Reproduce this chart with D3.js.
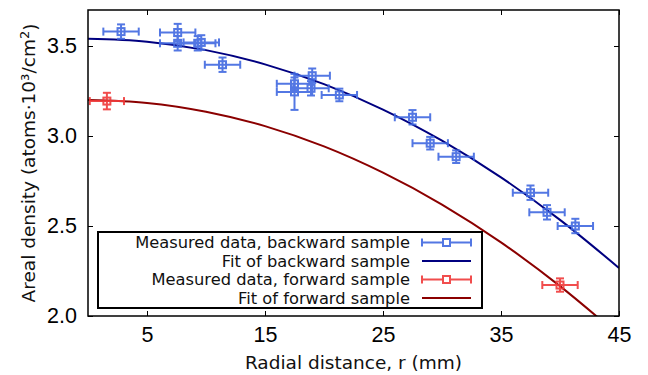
<!DOCTYPE html>
<html lang="en">
<head>
<meta charset="UTF-8">
<title>Areal density vs radial distance</title>
<script src="https://d3js.org/d3.v7.min.js"></script>
<style>
    body { margin: 0; background: #fff; }
    svg { display: block; font-family: 'DejaVu Sans', sans-serif; }
    .tick text { font-size: 21.5px; fill: #000; }
    .tick line { stroke: #000; stroke-width: 1; }
    .axis-label { font-size: 18.5px; fill: #111; }
    .legend text { font-size: 16.3px; fill: #111; }
</style>
</head>
<body>
<svg id="chart" width="648" height="375"></svg>
<script>
    // backward sample: radial distance (mm), areal density, errors
    var backR    = [2.8, 7.6, 7.6, 9.3, 9.6, 11.4, 17.5, 17.5, 18.9, 19.0, 21.3, 27.5, 29.0, 31.2, 37.5, 38.9, 41.3];
    var backD    = [3.58, 3.575, 3.515, 3.515, 3.52, 3.396, 3.29, 3.245, 3.265, 3.335, 3.228, 3.104, 2.96, 2.885, 2.685, 2.576, 2.5];
    var backRerr = [1.5, 1.5, 1.5, 1.5, 1.5, 1.5, 1.5, 1.5, 1.5, 1.5, 1.5, 1.5, 1.5, 1.5, 1.5, 1.5, 1.5];
    var backDerr = [0.04, 0.048, 0.04, 0.04, 0.04, 0.04, 0.035, 0.1, 0.04, 0.04, 0.035, 0.04, 0.035, 0.035, 0.04, 0.04, 0.04];

    // forward sample
    var fwdR    = [1.6, 40.0];
    var fwdD    = [3.194, 2.172];
    var fwdRerr = [1.45, 1.5];
    var fwdDerr = [0.046, 0.037];

    // fitted curves
    var fitR    = [0, 5, 10, 15, 20, 25, 30, 35, 40, 45];
    var backFit = [3.54, 3.524, 3.477, 3.398, 3.288, 3.147, 2.974, 2.77, 2.534, 2.267];
    var fwdFit  = [3.2, 3.184, 3.135, 3.055, 2.942, 2.796, 2.619, 2.409, 2.166, 1.892];

    var xTicks = [5, 15, 25, 35, 45];
    var yTicks = [2.0, 2.5, 3.0, 3.5];

    var blue = "#4169e1", navy = "#000080", red = "#f03a3a", darkred = "#8b0000";

    var svg = d3.select("#chart"),
        margin = {top: 10, right: 29, bottom: 59, left: 88},
        width = +svg.attr("width") - margin.left - margin.right,
        height = +svg.attr("height") - margin.top - margin.bottom;

    var x = d3.scaleLinear().domain([0, 45]).range([0, width]),
        y = d3.scaleLinear().domain([2.0, 3.7]).range([height, 0]);

    var g = svg.append("g").attr("transform", "translate(" + margin.left + "," + margin.top + ")");

    g.append("clipPath").attr("id", "clip").append("rect").attr("width", width).attr("height", height);

    // axes, ticks pointing inward on all four sides
    g.append("g").attr("transform", "translate(0," + height + ")")
        .call(d3.axisBottom(x).tickValues(xTicks).tickSizeInner(-5).tickSizeOuter(0).tickPadding(11).tickFormat(d3.format("d")))
        .call(function(a) { a.select(".domain").remove(); });
    g.append("g")
        .call(d3.axisTop(x).tickValues(xTicks).tickSizeInner(-5).tickSizeOuter(0).tickFormat(""))
        .call(function(a) { a.select(".domain").remove(); });
    g.append("g")
        .call(d3.axisLeft(y).tickValues(yTicks).tickSizeInner(-5).tickSizeOuter(0).tickPadding(11).tickFormat(d3.format(".1f")))
        .call(function(a) { a.select(".domain").remove(); });
    g.append("g").attr("transform", "translate(" + width + ",0)")
        .call(d3.axisRight(y).tickValues(yTicks).tickSizeInner(-5).tickSizeOuter(0).tickFormat(""))
        .call(function(a) { a.select(".domain").remove(); });

    var plot = g.append("g").attr("clip-path", "url(#clip)");

    var line = d3.line().x(function(d) { return x(d[0]); }).y(function(d) { return y(d[1]); }).curve(d3.curveMonotoneX);

    plot.append("path").datum(d3.zip(fitR, fwdFit)).attr("d", line)
        .attr("fill", "none").attr("stroke", darkred).attr("stroke-width", 2);
    plot.append("path").datum(d3.zip(fitR, backFit)).attr("d", line)
        .attr("fill", "none").attr("stroke", navy).attr("stroke-width", 2);

    function errorbars(sel, rs, ds, rerr, derr, color) {
        var pts = rs.map(function(r, i) { return {r: r, d: ds[i], er: rerr[i], ed: derr[i]}; });
        var grp = sel.append("g").attr("stroke", color).attr("stroke-width", 2).attr("fill", "none").attr("opacity", 0.9);
        pts.forEach(function(p) {
            var cx = x(p.r), cy = y(p.d), x0 = x(p.r - p.er), x1 = x(p.r + p.er), y0 = y(p.d - p.ed), y1 = y(p.d + p.ed);
            grp.append("line").attr("x1", x0).attr("x2", x1).attr("y1", cy).attr("y2", cy);
            grp.append("line").attr("x1", cx).attr("x2", cx).attr("y1", y0).attr("y2", y1);
            grp.append("line").attr("x1", x0).attr("x2", x0).attr("y1", cy - 4).attr("y2", cy + 4);
            grp.append("line").attr("x1", x1).attr("x2", x1).attr("y1", cy - 4).attr("y2", cy + 4);
            grp.append("line").attr("x1", cx - 4).attr("x2", cx + 4).attr("y1", y0).attr("y2", y0);
            grp.append("line").attr("x1", cx - 4).attr("x2", cx + 4).attr("y1", y1).attr("y2", y1);
            grp.append("rect").attr("x", cx - 3.5).attr("y", cy - 3.5).attr("width", 7).attr("height", 7);
        });
    }
    errorbars(plot, backR, backD, backRerr, backDerr, blue);
    errorbars(plot, fwdR, fwdD, fwdRerr, fwdDerr, red);

    // frame
    g.append("rect").attr("width", width).attr("height", height)
        .attr("fill", "none").attr("stroke", "#000").attr("stroke-width", 1.5);

    // legend
    var legendItems = [
        {label: "Measured data, backward sample", color: blue, marker: true},
        {label: "Fit of backward sample", color: navy, marker: false},
        {label: "Measured data, forward sample", color: red, marker: true},
        {label: "Fit of forward sample", color: darkred, marker: false}
    ];
    var lg = svg.append("g").attr("class", "legend").attr("transform", "translate(98,232)");
    lg.append("rect").attr("width", 384).attr("height", 76).attr("fill", "#fff").attr("stroke", "#000").attr("stroke-width", 2);
    legendItems.forEach(function(it, i) {
        var yy = 10.5 + i * 18.5;
        lg.append("text").attr("x", 312).attr("y", yy).attr("dy", "0.35em").attr("text-anchor", "end").text(it.label);
        var h = lg.append("g").attr("stroke", it.color).attr("stroke-width", 2).attr("fill", "none");
        h.append("line").attr("x1", 324).attr("x2", 373).attr("y1", yy).attr("y2", yy);
        if (it.marker) {
            h.attr("opacity", 0.9);
            h.append("line").attr("x1", 324).attr("x2", 324).attr("y1", yy - 4).attr("y2", yy + 4);
            h.append("line").attr("x1", 373).attr("x2", 373).attr("y1", yy - 4).attr("y2", yy + 4);
            h.append("rect").attr("x", 345).attr("y", yy - 3.5).attr("width", 7).attr("height", 7).attr("fill", "#fff");
        }
    });

    // axis labels
    svg.append("text").attr("class", "axis-label").attr("x", margin.left + width / 2).attr("y", 369)
        .attr("text-anchor", "middle").text("Radial distance, r (mm)");
    var yl = svg.append("text").attr("class", "axis-label").attr("text-anchor", "middle")
        .attr("transform", "translate(35," + (margin.top + height / 2) + ") rotate(-90)");
    yl.append("tspan").text("Areal density (atoms\u00b710\u00b3/cm");
    yl.append("tspan").attr("dy", "-0.45em").attr("font-size", "13px").text("2");
    yl.append("tspan").attr("dy", "0.45em").text(")");
</script>
</body>
</html>
